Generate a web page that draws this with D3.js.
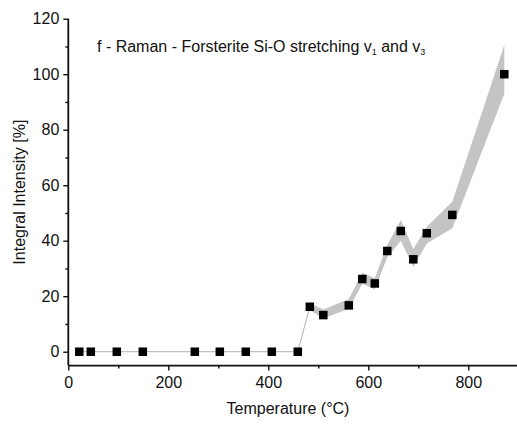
<!DOCTYPE html>
<html><head><meta charset="utf-8">
<script src="https://cdn.jsdelivr.net/npm/d3@7"></script>
<style>
body{margin:0;background:#fff}
svg{display:block}
text{font-family:"Liberation Sans",Arial,sans-serif;fill:#111}
</style>
</head><body>
<svg id="chart" width="517" height="425"></svg>
<script>
// Integral intensity of the forsterite Si-O stretching bands vs temperature
const temperature = [22, 45, 97, 149, 253, 303, 355, 407, 459, 483, 510, 561, 588, 613, 638, 665, 690, 717, 768, 872];
const intensity   = [0, 0, 0, 0, 0, 0, 0, 0, 0, 16.2, 13.2, 16.7, 26.2, 24.6, 36.3, 43.5, 33.3, 42.7, 49.3, 100];

// uncertainty envelope
const bandTemperature = [483, 510, 561, 588, 613, 638, 665, 690, 717, 768, 872];
const bandUpper = [17.5, 15.2, 19, 28.5, 26.5, 38.5, 47.5, 37, 45, 54, 110.5];
const bandLower = [15, 12, 15.5, 24.5, 22.5, 34, 40, 30.5, 39, 44.5, 93];

const xMajorTicks = [0, 200, 400, 600, 800];
const xMinorTicks = [100, 300, 500, 700];
const yMajorTicks = [0, 20, 40, 60, 80, 100, 120];
const yMinorTicks = [10, 30, 50, 70, 90, 110];

const svg = d3.select("#chart");
const x = d3.scaleLinear().domain([0, 900]).range([68.3, 518.3]);
const y = d3.scaleLinear().domain([-5, 120]).range([365.6, 18.7]);

const points = temperature.map((t, i) => ({t, v: intensity[i]}));
const band = bandTemperature.map((t, i) => ({t, lo: bandLower[i], hi: bandUpper[i]}));

// connecting line sits under the envelope
svg.append("path")
  .datum(points)
  .attr("fill", "none")
  .attr("stroke", "#b0b0b0")
  .attr("stroke-width", 1)
  .attr("d", d3.line().x(d => x(d.t)).y(d => y(d.v)));

svg.append("path")
  .datum(band)
  .attr("fill", "#c4c4c4")
  .attr("d", d3.area().x(d => x(d.t)).y0(d => y(d.lo)).y1(d => y(d.hi)));

const s = 8.5;
svg.append("g").selectAll("rect").data(points).join("rect")
  .attr("x", d => x(d.t) - s / 2)
  .attr("y", d => y(d.v) - s / 2)
  .attr("width", s).attr("height", s)
  .attr("fill", "#000");

// axes
const xAxis = svg.append("g").attr("transform", `translate(0,${y(-5)})`)
  .call(d3.axisBottom(x).tickValues(xMajorTicks).tickSize(5).tickPadding(6).tickFormat(d3.format("d")));
svg.append("g").attr("transform", `translate(0,${y(-5)})`)
  .call(d3.axisBottom(x).tickValues(xMinorTicks).tickSize(3).tickFormat(""))
  .call(g => g.select(".domain").remove());
const yAxis = svg.append("g").attr("transform", `translate(${x(0)},0)`)
  .call(d3.axisLeft(y).tickValues(yMajorTicks).tickSize(5).tickPadding(4).tickFormat(d3.format("d")));
svg.append("g").attr("transform", `translate(${x(0)},0)`)
  .call(d3.axisLeft(y).tickValues(yMinorTicks).tickSize(3).tickFormat(""))
  .call(g => g.select(".domain").remove());

svg.selectAll(".domain").attr("stroke", "#111").attr("stroke-width", 1.8);
svg.selectAll(".tick line").attr("stroke", "#111").attr("stroke-width", 1.4);
svg.selectAll(".tick text").attr("font-size", 16).attr("fill", "#111")
  .attr("font-family", '"Liberation Sans",Arial,sans-serif');
xAxis.selectAll(".domain").attr("d", `M${x(0)},0H${x(900)}`);
yAxis.selectAll(".domain").attr("d", `M0,${y(-5)}V${y(120)}`);

svg.append("text")
  .attr("x", 288).attr("y", 414)
  .attr("text-anchor", "middle").attr("font-size", 16)
  .text("Temperature (°C)");

svg.append("text")
  .attr("transform", `translate(25,${(y(-5) + y(120)) / 2}) rotate(-90)`)
  .attr("text-anchor", "middle").attr("font-size", 16)
  .text("Integral Intensity [%]");

const title = svg.append("text").attr("x", 97).attr("y", 52).attr("font-size", 16);
title.append("tspan").text("f - Raman - Forsterite Si-O stretching v");
title.append("tspan").attr("font-size", 9).attr("dy", 3).text("1");
title.append("tspan").attr("dy", -3).text(" and v");
title.append("tspan").attr("font-size", 9).attr("dy", 3).text("3");
</script>
</body></html>
